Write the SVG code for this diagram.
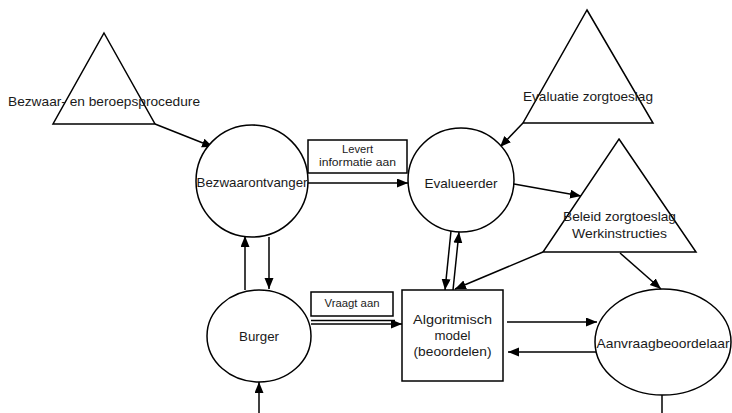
<svg xmlns="http://www.w3.org/2000/svg" width="732" height="413" viewBox="0 0 732 413">
  <style>
    .shape { fill: #fff; stroke: #000; stroke-width: 1.5; }
    .label { fill: #000; stroke: none; }
    .conn { fill: none; stroke: #000; stroke-width: 1.5; }
    text { font-family: "Liberation Sans", Arial, sans-serif; font-size: 13px; fill: #1a1a1a; }
    .small { font-size: 10.5px; }
  </style>
  <defs>
    <marker id="arrow" markerUnits="userSpaceOnUse" markerWidth="12" markerHeight="10" refX="11" refY="4.5" orient="auto">
      <path d="M0,0 L11,4.5 L0,9 z" fill="#000"/>
    </marker>
  </defs>

  <rect width="732" height="413" fill="#fff"/>

  <!-- connectors -->
  <g id="connectors">
    <line class="conn" x1="155" y1="124" x2="213" y2="147" marker-end="url(#arrow)"/>
    <line class="conn" x1="308" y1="183" x2="408" y2="183" marker-end="url(#arrow)"/>
    <line class="conn" x1="523" y1="123" x2="500" y2="147" marker-end="url(#arrow)"/>
    <line class="conn" x1="514" y1="184" x2="581" y2="196" marker-end="url(#arrow)"/>
    <line class="conn" x1="451" y1="231" x2="445" y2="290" marker-end="url(#arrow)"/>
    <line class="conn" x1="453" y1="290" x2="459" y2="232" marker-end="url(#arrow)"/>
    <line class="conn" x1="543" y1="252" x2="455" y2="289" marker-end="url(#arrow)"/>
    <line class="conn" x1="620" y1="253" x2="661" y2="289" marker-end="url(#arrow)"/>
    <line class="conn" x1="245" y1="290" x2="245" y2="236" marker-end="url(#arrow)"/>
    <line class="conn" x1="269" y1="237" x2="269" y2="289" marker-end="url(#arrow)"/>
    <line class="conn" x1="311" y1="320.5" x2="395" y2="320.5" stroke-width="1"/>
    <line class="conn" x1="311" y1="324" x2="402" y2="324" marker-end="url(#arrow)"/>
    <line class="conn" x1="507" y1="322" x2="597" y2="322" marker-end="url(#arrow)"/>
    <line class="conn" x1="597" y1="352" x2="508" y2="352" marker-end="url(#arrow)"/>
    <line class="conn" x1="259" y1="413" x2="259" y2="382" marker-end="url(#arrow)"/>
    <line class="conn" x1="662" y1="395" x2="662" y2="413"/>
  </g>

  <!-- Bezwaar- en beroepsprocedure -->
  <g id="bezwaarprocedure">
    <polygon class="shape" points="104,33 155,124 53,124"/>
    <text x="104" y="106" text-anchor="middle" textLength="192" lengthAdjust="spacingAndGlyphs">Bezwaar- en beroepsprocedure</text>
  </g>

  <!-- Bezwaarontvanger -->
  <g id="bezwaarontvanger">
    <ellipse class="shape" cx="252" cy="181" rx="56" ry="56"/>
    <text x="252" y="187" text-anchor="middle" textLength="111" lengthAdjust="spacingAndGlyphs">Bezwaarontvanger</text>
  </g>

  <!-- Levert informatie aan -->
  <g id="levert-informatie">
    <rect class="shape" x="308" y="140" width="99" height="33"/>
    <text class="small" x="357.5" y="153" text-anchor="middle" textLength="31" lengthAdjust="spacingAndGlyphs">Levert</text>
    <text class="small" x="357.5" y="166" text-anchor="middle" textLength="77" lengthAdjust="spacingAndGlyphs">informatie aan</text>
  </g>

  <!-- Evalueerder -->
  <g id="evalueerder">
    <ellipse class="shape" cx="461" cy="180" rx="53" ry="52"/>
    <text x="461" y="188" text-anchor="middle" textLength="73" lengthAdjust="spacingAndGlyphs">Evalueerder</text>
  </g>

  <!-- Evaluatie zorgtoeslag -->
  <g id="evaluatie-zorgtoeslag">
    <polygon class="shape" points="587,10 653,123 523,123"/>
    <text x="588" y="101" text-anchor="middle" textLength="130" lengthAdjust="spacingAndGlyphs">Evaluatie zorgtoeslag</text>
  </g>

  <!-- Beleid zorgtoeslag / Werkinstructies -->
  <g id="beleid-zorgtoeslag">
    <polygon class="shape" points="619,139 696,252 543,252"/>
    <text x="619.5" y="221" text-anchor="middle" textLength="113" lengthAdjust="spacingAndGlyphs">Beleid zorgtoeslag</text>
    <text x="619.5" y="238" text-anchor="middle" textLength="95" lengthAdjust="spacingAndGlyphs">Werkinstructies</text>
  </g>

  <!-- Burger -->
  <g id="burger">
    <ellipse class="shape" cx="259" cy="336" rx="52" ry="46"/>
    <text x="259" y="341" text-anchor="middle" textLength="40" lengthAdjust="spacingAndGlyphs">Burger</text>
  </g>

  <!-- Vraagt aan -->
  <g id="vraagt-aan">
    <rect class="shape" x="311" y="292" width="82" height="24"/>
    <text class="small" x="352" y="307" text-anchor="middle" textLength="55" lengthAdjust="spacingAndGlyphs">Vraagt aan</text>
  </g>

  <!-- Algoritmisch model -->
  <g id="algoritmisch-model">
    <rect class="shape" x="402" y="290" width="101" height="91"/>
    <text x="452.5" y="324" text-anchor="middle" textLength="79" lengthAdjust="spacingAndGlyphs">Algoritmisch</text>
    <text x="452.5" y="340" text-anchor="middle" textLength="36" lengthAdjust="spacingAndGlyphs">model</text>
    <text x="452.5" y="356" text-anchor="middle" textLength="78" lengthAdjust="spacingAndGlyphs">(beoordelen)</text>
  </g>

  <!-- Aanvraagbeoordelaar -->
  <g id="aanvraagbeoordelaar">
    <ellipse class="shape" cx="663" cy="342" rx="68" ry="53"/>
    <text x="663" y="348" text-anchor="middle" textLength="133" lengthAdjust="spacingAndGlyphs">Aanvraagbeoordelaar</text>
  </g>
</svg>
